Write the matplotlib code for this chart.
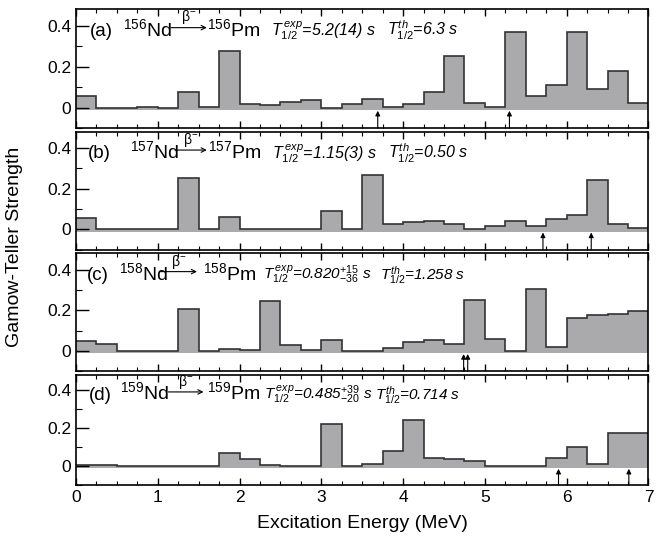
import numpy as np
import matplotlib.pyplot as plt
from matplotlib.ticker import MultipleLocator

plt.rcParams['font.family'] = ['Liberation Sans', 'DejaVu Sans']
plt.rcParams['mathtext.fontset'] = 'custom'
plt.rcParams['mathtext.rm'] = 'Liberation Sans'
plt.rcParams['mathtext.it'] = 'Liberation Sans:italic'

# 0.25 MeV bins, 0..7 MeV
edges = np.arange(0, 7.01, 0.25)

bgt_156 = [0.059, 0.0, 0.0, 0.003, 0.0, 0.076, 0.003, 0.277, 0.016, 0.012,
           0.028, 0.036, 0.0, 0.016, 0.043, 0.005, 0.020, 0.079, 0.252, 0.023,
           0.005, 0.370, 0.058, 0.109, 0.370, 0.090, 0.178, 0.023]
bgt_157 = [0.058, 0.0, 0.0, 0.0, 0.0, 0.255, 0.0, 0.061, 0.0, 0.0,
           0.0, 0.0, 0.090, 0.0, 0.268, 0.025, 0.035, 0.040, 0.026, 0.0,
           0.016, 0.041, 0.015, 0.049, 0.071, 0.242, 0.025, 0.008]
bgt_158 = [0.051, 0.036, 0.0, 0.0, 0.0, 0.206, 0.0, 0.008, 0.003, 0.245,
           0.031, 0.005, 0.056, 0.0, 0.0, 0.015, 0.044, 0.054, 0.035, 0.250,
           0.061, 0.0, 0.305, 0.021, 0.161, 0.178, 0.181, 0.196]
bgt_159 = [0.003, 0.003, 0.0, 0.0, 0.0, 0.0, 0.0, 0.068, 0.036, 0.004,
           0.0, 0.0, 0.222, 0.0, 0.011, 0.078, 0.242, 0.041, 0.037, 0.025,
           0.0, 0.0, 0.0, 0.041, 0.101, 0.012, 0.176, 0.176]

arrows_156 = [3.69, 5.30]
arrows_157 = [5.71, 6.30]
arrows_158 = [4.74, 4.79]
arrows_159 = [5.90, 6.76]

labels = ['(a)', '(b)', '(c)', '(d)']
masses = ['156', '157', '158', '159']
t_exp = ['=5.2(14) s', '=1.15(3) s',
         r'=0.820$\mathit{^{+15}_{-36}}$ s', r'=0.485$\mathit{^{+39}_{-20}}$ s']
t_th = ['=6.3 s', '=0.50 s', '=1.258 s', '=0.714 s']

# layout of text per panel (x in MeV)
lab_x = [0.17, 0.15, 0.13, 0.16]
nd_x = [0.575, 0.66, 0.53, 0.54]
arr_x = [(1.16, 1.60), (1.21, 1.60), (1.03, 1.48), (1.13, 1.56)]
pm_x = [1.60, 1.62, 1.55, 1.60]
texp_x = [2.39, 2.40, 2.29, 2.30]
tth_x = [3.80, 3.82, 3.72, 3.66]
t_size = [11.5, 11.5, 11, 11]

data = [bgt_156, bgt_157, bgt_158, bgt_159]
arrows = [arrows_156, arrows_157, arrows_158, arrows_159]

fig = plt.figure(figsize=(6.72, 5.40), dpi=100)
gs = fig.add_gridspec(4, 1, left=0.113, right=0.965, top=0.983, bottom=0.102,
                      hspace=0.03, height_ratios=[119, 118, 118, 110])

gray = '#aaaaad'
for i in range(4):
    ax = fig.add_subplot(gs[i])
    vals = np.array(data[i])
    ax.stairs(vals, edges, baseline=-0.012, fill=True, color=gray, lw=0)
    ax.stairs(vals, edges, baseline=None, color='#333333', lw=1.2)
    ax.set_xlim(0, 7)
    ax.set_ylim(-0.1, 0.48)
    ax.xaxis.set_major_locator(MultipleLocator(1))
    ax.xaxis.set_minor_locator(MultipleLocator(0.25))
    ax.yaxis.set_minor_locator(MultipleLocator(0.1))
    ax.set_yticks([0, 0.2, 0.4])
    ax.set_yticklabels(['0', '0.2', '0.4'])
    ax.tick_params(axis='x', which='both', direction='in', top=True, labelsize=12.5)
    ax.tick_params(axis='x', which='major', length=5, width=1)
    ax.tick_params(axis='x', which='minor', length=3, width=0.8)
    ax.tick_params(axis='y', which='major', direction='in', length=9, width=1, labelsize=12.5)
    ax.tick_params(axis='y', which='minor', direction='in', length=4.5, width=0.8)
    for s in ax.spines.values():
        s.set_linewidth(1.2)
    if i < 3:
        ax.tick_params(axis='x', labelbottom=False)
    else:
        ax.set_xticks(range(8))
        ax.set_xlabel('Excitation Energy (MeV)', fontsize=14, labelpad=7)

    for xa in arrows[i]:
        ax.annotate('', xy=(xa, -0.015), xytext=(xa, -0.1),
                    arrowprops=dict(arrowstyle='-|>', color='k', lw=0.8,
                                    mutation_scale=7, shrinkA=0, shrinkB=0))

    yb = 0.35
    ax.text(lab_x[i], yb, labels[i], fontsize=13.5, va='baseline')
    ax.text(nd_x[i], yb, '$^{%s}$Nd' % masses[i], fontsize=14, va='baseline')
    x0, x1 = arr_x[i]
    ax.annotate('', xy=(x1, yb + 0.04), xytext=(x0, yb + 0.04),
                arrowprops=dict(arrowstyle='->', color='k', lw=0.8,
                                mutation_scale=8, shrinkA=0, shrinkB=0))
    ax.text((x0 + x1) / 2, yb + 0.07, r'$\mathrm{\beta^{-}}$', fontsize=10,
            ha='center', va='baseline')
    ax.text(pm_x[i], yb, '$^{%s}$Pm' % masses[i], fontsize=14, va='baseline')
    ax.text(texp_x[i], yb, r'$T^{\,exp}_{1/2}$' + t_exp[i], fontsize=t_size[i],
            style='italic', va='baseline')
    ax.text(tth_x[i], yb, r'$T^{th}_{1/2}$' + t_th[i], fontsize=t_size[i],
            style='italic', va='baseline')

fig.text(0.022, 0.543, 'Gamow-Teller Strength', rotation=90, fontsize=14,
         ha='center', va='center')

fig.savefig('out.png', dpi=100)
